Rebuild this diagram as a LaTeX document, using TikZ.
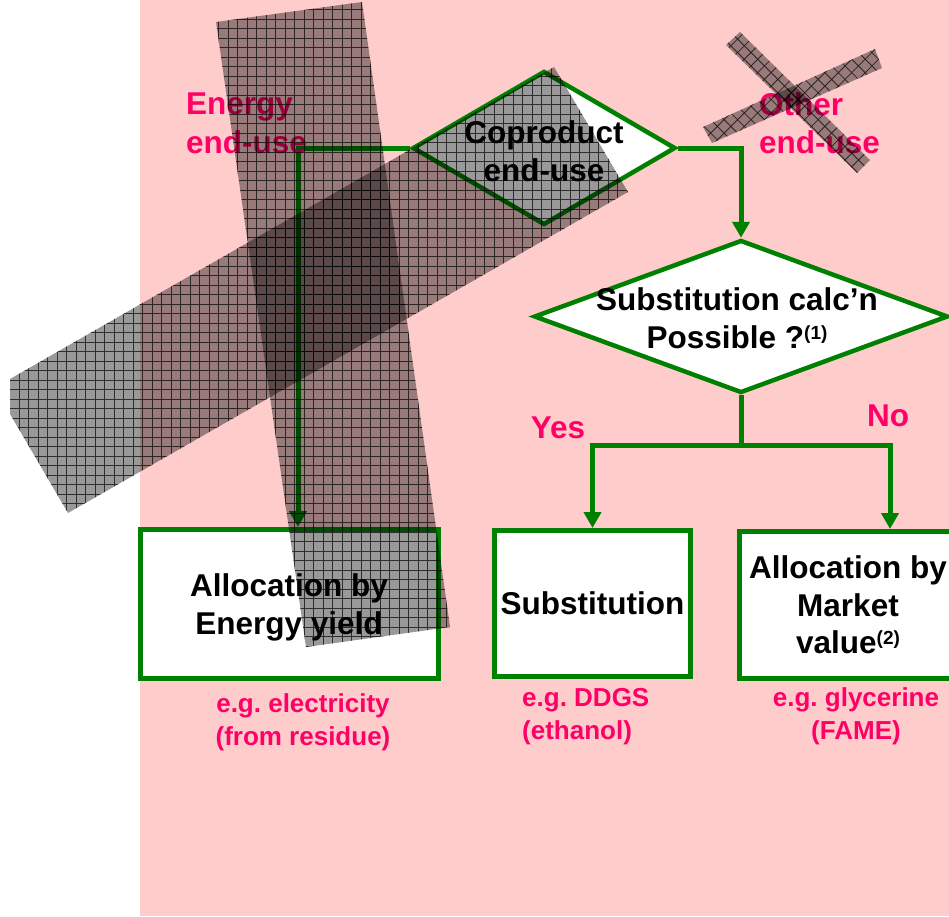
\documentclass[tikz,border=0pt]{standalone}
\usepackage{fontspec}
\setmainfont{Liberation Sans}
\usetikzlibrary{arrows.meta,shapes.geometric,calc}
\definecolor{bgpink}{RGB}{255,204,204}
\definecolor{lblpink}{RGB}{255,0,102}
\definecolor{flowgreen}{RGB}{0,128,0}
\newcommand\supmark[1]{\raisebox{9pt}{\fontsize{19}{19}\selectfont #1}}
\newcommand\nodepth[1]{\raisebox{0pt}[\height][0pt]{#1}}
\tikzset{
  bigtxt/.style={font=\bfseries\fontsize{31.5}{37.5}\selectfont\frenchspacing, text=black},
  choicetxt/.style={font=\bfseries\fontsize{31.5}{37.5}\selectfont, text=lblpink, inner sep=0pt},
  lbltxt/.style={font=\bfseries\fontsize{26}{33}\selectfont\frenchspacing, text=lblpink, inner sep=0pt},
  toptxt/.style={font=\bfseries\fontsize{31.5}{38.5}\selectfont, text=lblpink, align=left, inner sep=0pt},
  boxnode/.style={draw=flowgreen, line width=5pt, fill=white, bigtxt, align=center, inner sep=0pt},
  decision/.style={diamond, draw=flowgreen, line width=4.5pt, fill=white, inner sep=0pt},
  flow/.style={draw=flowgreen, line width=5pt},
  flowarrow/.style={flow, -{Triangle[width=17pt,length=16pt]}},
  band/.style={fill=black, fill opacity=0.40},
  bandgrid/.style={draw=black, line width=0.8pt, draw opacity=0.7},
}
\newcommand\gridband[1]{%
  \fill[band] #1 -- cycle;
  \begin{scope}\clip #1 -- cycle; \draw[bandgrid] (0,0) grid[step=9.5pt] (949,916);\end{scope}}
\newcommand\hatchband[1]{%
  \fill[band] #1 -- cycle;
  \begin{scope}\clip #1 -- cycle;
    \draw[bandgrid, rotate around={45:(792,102)}] (642,-48) grid[step=9.5pt] (942,252);\end{scope}}
\begin{document}
\begin{tikzpicture}[x=1pt,y=-1pt]
\useasboundingbox (0,0) rectangle (949,916);
\clip (0,0) rectangle (949,916);
\fill[bgpink] (140,0) rectangle (949,916);

% decisions
\node[decision, minimum width=263pt, minimum height=154pt] (coproduct) at (544,148) {};
\node[bigtxt, align=center, inner sep=0pt, font=\bfseries\fontsize{31.5}{38.5}\selectfont] (coptext) at (544,151) {Coproduct\\end-use};
\node[decision, minimum width=414pt, minimum height=153pt] (subst) at (741,316.5) {};
\node[bigtxt, align=center, inner sep=0pt] (substtext) at (737,318) {Substitution calc’n\\Possible ?\supmark{(1)}};

% boxes
\node[boxnode, minimum width=298pt, minimum height=149pt] (boxenergy) at (289,604) {Allocation by\\\nodepth{Energy yield}};
\node[boxnode, minimum width=196pt, minimum height=146pt] (boxsubst) at (592.5,603.5) {Substitution};
\node[boxnode, minimum width=217pt, minimum height=147pt] (boxmarket) at (848,605) {Allocation by\\Market\\value\supmark{(2)}};

% connectors
\coordinate (jleft) at (298,148);
\draw[flowarrow] (coproduct.west) -- (jleft) -- (jleft |- boxenergy.north);
\draw[flowarrow] (coproduct.east) -| (subst.north);
\coordinate (split) at (741,445);
\coordinate (noend) at (890,445);
\draw[flow] (subst.south) -- (split);
\draw[flowarrow] (split) -| (boxsubst.north);
\draw[flowarrow] (split) -- (noend) -- (noend |- boxmarket.north);

% labels
\node[choicetxt] (yes) at (558,428) {Yes};
\node[choicetxt] (no) at (888,416) {No};
\node[toptxt, anchor=north west] (energyuse) at (186,93) {Energy\\end-use};
\node[toptxt, anchor=north west] (otheruse) at (759,92) {Other\\end-use};
\node[lbltxt, align=center] (egelec) at (303,722) {e.g. electricity\\(from residue)};
\node[lbltxt, align=left, anchor=west] (egddgs) at (522,716.5) {e.g. DDGS\\(ethanol)};
\node[lbltxt, align=center] (egglyc) at (856,716.5) {e.g. glycerine\\(FAME)};

% overlay bands
\gridband{(216,22) -- (362,2) -- (450,627) -- (306,647)}
\gridband{(10,379) -- (554,67) -- (628,192) -- (68,513) -- (10,414)}
\hatchband{(726,45) -- (740,32) -- (870,160) -- (857,173)}
\hatchband{(703,127) -- (875,49) -- (882,68) -- (712,143)}
\end{tikzpicture}
\end{document}
